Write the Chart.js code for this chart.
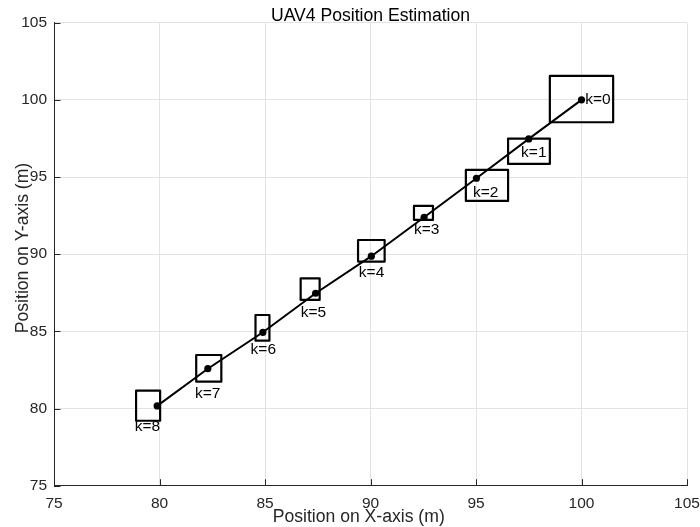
<!DOCTYPE html>
<html>
<head>
<meta charset="utf-8">
<script src="https://cdn.jsdelivr.net/npm/chart.js@4/dist/chart.umd.min.js"></script>
<style>
  html, body { margin: 0; padding: 0; background: #ffffff; }
  #wrap { width: 700px; height: 527px; }
</style>
</head>
<body>
<div id="wrap"><canvas id="c" width="700" height="527"></canvas></div>
<script>
// ---- data ----
const stepLabels = ["k=0", "k=1", "k=2", "k=3", "k=4", "k=5", "k=6", "k=7", "k=8"];
const estX = [100.00, 97.50, 95.02, 92.54, 90.04, 87.40, 84.90, 82.29, 79.89];
const estY = [100.00, 97.47, 94.92, 92.39, 89.87, 87.47, 84.94, 82.58, 80.17];
const boxLeft   = [98.50, 96.52, 94.52, 92.06, 89.41, 86.69, 84.55, 81.74, 78.89];
const boxRight  = [101.50, 98.50, 96.52, 92.96, 90.67, 87.59, 85.21, 82.93, 80.03];
const boxBottom = [98.55, 95.85, 93.45, 92.22, 89.52, 87.04, 84.40, 81.74, 79.21];
const boxTop    = [101.55, 97.49, 95.46, 93.13, 90.92, 88.44, 86.06, 83.47, 81.16];
const labelX = [100.78, 97.74, 95.46, 92.66, 90.05, 87.30, 84.92, 82.28, 79.43];
const labelY = [100.00, 96.58, 93.99, 91.57, 88.80, 86.21, 83.84, 80.94, 78.80];
const xTicks = [75, 80, 85, 90, 95, 100, 105];
const yTicks = [75, 80, 85, 90, 95, 100, 105];
const titleText = "UAV4 Position Estimation";
const xTitle = "Position on X-axis (m)";
const yTitle = "Position on Y-axis (m)";

const FONT = '"Liberation Sans", Arial, Helvetica, sans-serif';
const AXIS_COLOR = '#262626';

// ---- datasets ----
const datasets = [];
for (let i = 0; i < stepLabels.length; i++) {
  datasets.push({
    label: 'box ' + stepLabels[i],
    data: [
      {x: boxLeft[i], y: boxBottom[i]},
      {x: boxRight[i], y: boxBottom[i]},
      {x: boxRight[i], y: boxTop[i]},
      {x: boxLeft[i], y: boxTop[i]},
      {x: boxLeft[i], y: boxBottom[i]}
    ],
    showLine: true,
    borderColor: '#000000',
    borderWidth: 2.2,
    borderJoinStyle: 'round',
    borderCapStyle: 'round',
    pointRadius: 0,
    fill: false,
    tension: 0
  });
}
datasets.push({
  label: 'estimate',
  data: estX.map((x, i) => ({x: x, y: estY[i]})),
  showLine: true,
  borderColor: '#000000',
  borderWidth: 2,
  pointRadius: 3.6,
  pointBackgroundColor: '#000000',
  pointBorderColor: '#000000',
  pointBorderWidth: 0,
  fill: false,
  tension: 0
});

// ---- plugin: inward ticks, step labels, titles ----
const decor = {
  id: 'decor',
  afterDatasetsDraw(chart) {
    const ctx = chart.ctx;
    const xs = chart.scales.x, ys = chart.scales.y;
    const area = chart.chartArea;
    ctx.save();
    // inward tick marks
    ctx.strokeStyle = AXIS_COLOR;
    ctx.lineWidth = 1;
    ctx.beginPath();
    xTicks.forEach(v => {
      const px = Math.round(xs.getPixelForValue(v)) + 0.5;
      ctx.moveTo(px, area.bottom);
      ctx.lineTo(px, area.bottom - 6.5);
    });
    yTicks.forEach(v => {
      const py = Math.round(ys.getPixelForValue(v)) + 0.5;
      ctx.moveTo(area.left, py);
      ctx.lineTo(area.left + 6.5, py);
    });
    ctx.stroke();

    // step labels
    ctx.fillStyle = '#000000';
    ctx.font = '15.5px ' + FONT;
    ctx.textAlign = 'center';
    ctx.textBaseline = 'middle';
    stepLabels.forEach((t, i) => {
      ctx.fillText(t, xs.getPixelForValue(labelX[i]), ys.getPixelForValue(labelY[i]));
    });

    // title
    ctx.font = '17.6px ' + FONT;
    ctx.textBaseline = 'alphabetic';
    ctx.fillStyle = '#000000';
    ctx.fillText(titleText, (area.left + area.right) / 2, 21);

    // x axis title
    ctx.fillStyle = AXIS_COLOR;
    ctx.fillText(xTitle, 358.7, 521.5);

    // y axis title
    ctx.translate(28, 248);
    ctx.rotate(-Math.PI / 2);
    ctx.fillText(yTitle, 0, 0);
    ctx.restore();
  }
};

new Chart(document.getElementById('c'), {
  type: 'scatter',
  data: { datasets: datasets },
  options: {
    responsive: false,
    devicePixelRatio: 1,
    animation: false,
    layout: { padding: { top: 22.7, right: 13, left: 0, bottom: 0 } },
    plugins: {
      legend: { display: false },
      tooltip: { enabled: false },
      title: { display: false }
    },
    scales: {
      x: {
        type: 'linear',
        min: 75, max: 105,
        afterBuildTicks: s => { s.ticks = xTicks.map(v => ({value: v})); },
        afterFit: s => { s.height = 41.3; s.paddingLeft = 0; s.paddingRight = 0; },
        grid: { color: '#e3e3e3', lineWidth: 1, drawTicks: false },
        border: { display: true, color: AXIS_COLOR, width: 1 },
        ticks: {
          color: AXIS_COLOR,
          font: { family: FONT, size: 15.5 },
          padding: 9,
          maxRotation: 0,
          autoSkip: false
        }
      },
      y: {
        type: 'linear',
        min: 75, max: 105,
        afterBuildTicks: s => { s.ticks = yTicks.map(v => ({value: v})); },
        afterFit: s => { s.width = 54; s.paddingTop = 0; s.paddingBottom = 0; },
        grid: { color: '#e3e3e3', lineWidth: 1, drawTicks: false },
        border: { display: true, color: AXIS_COLOR, width: 1 },
        ticks: {
          color: AXIS_COLOR,
          font: { family: FONT, size: 15.5 },
          padding: 7,
          autoSkip: false
        }
      }
    }
  },
  plugins: [decor]
});
</script>
</body>
</html>
